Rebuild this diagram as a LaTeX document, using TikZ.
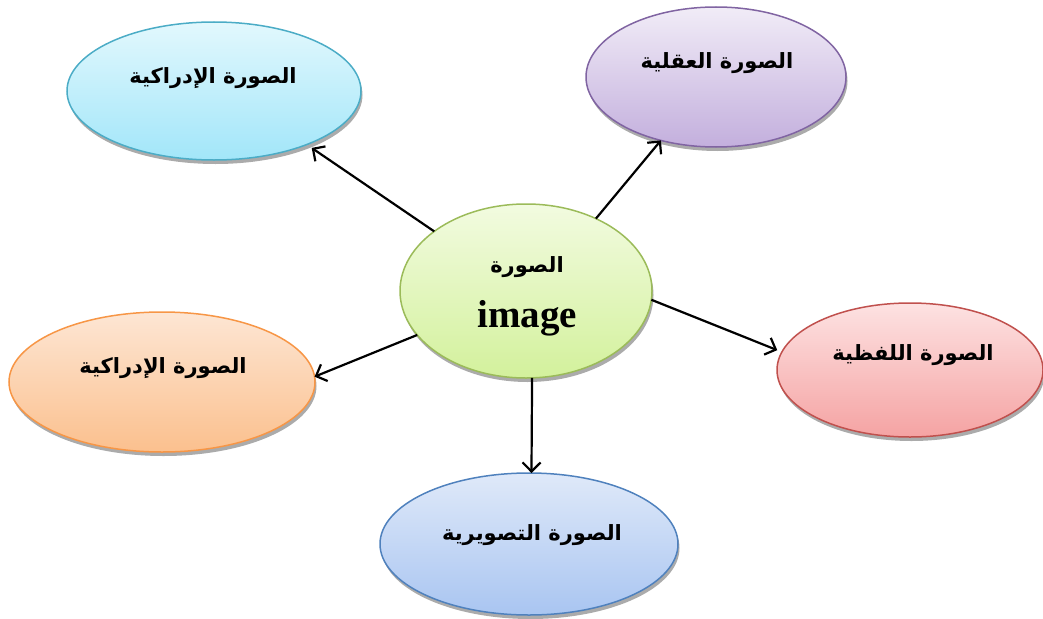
\documentclass[tikz,border=0pt]{standalone}
\usepackage{fontspec}
\setmainfont{Liberation Serif}
\newfontfamily\arabicfont[Script=Arabic]{DejaVu Sans}
\TeXXeTstate=1
\usetikzlibrary{shapes.geometric,shadows,arrows.meta}
\definecolor{cyanT}{HTML}{E2F8FD}\definecolor{cyanB}{HTML}{A2E6F9}\definecolor{cyanD}{HTML}{4BACC6}
\definecolor{purT}{HTML}{F1ECF7}\definecolor{purB}{HTML}{C3AFDD}\definecolor{purD}{HTML}{8064A2}
\definecolor{grnT}{HTML}{F2FBE0}\definecolor{grnB}{HTML}{D3F19C}\definecolor{grnD}{HTML}{9BBB59}
\definecolor{orgT}{HTML}{FDE6D4}\definecolor{orgB}{HTML}{FBC08E}\definecolor{orgD}{HTML}{F79646}
\definecolor{redT}{HTML}{FDE2E2}\definecolor{redB}{HTML}{F5A3A3}\definecolor{redD}{HTML}{C0504D}
\definecolor{bluT}{HTML}{DFE9F9}\definecolor{bluB}{HTML}{A9C5F1}\definecolor{bluD}{HTML}{4F81BD}
\begin{document}
\begin{tikzpicture}[x=1pt,y=-1pt,
  bub/.style={ellipse, inner sep=0pt, outer sep=0pt, line width=1.5pt,
    drop shadow={shadow xshift=1.5pt, shadow yshift=-4pt, fill=black!55, opacity=0.6}},
  lab/.style={font=\arabicfont\bfseries\fontsize{21}{25}\selectfont, inner sep=0pt},
  arr/.style={line width=2.2pt, -{Straight Barb[length=9pt,width=18pt]}}
]
\useasboundingbox (0,0) rectangle (1043,618);
% ellipses
\node[bub, draw=cyanD, top color=cyanT, bottom color=cyanB, minimum width=294pt, minimum height=138pt] (tl) at (214,91) {};
\node[bub, draw=purD, top color=purT, bottom color=purB, minimum width=260pt, minimum height=140pt] (tr) at (716,77) {};
\node[bub, draw=grnD, top color=grnT, bottom color=grnB, minimum width=252pt, minimum height=174pt] (c) at (526,291) {};
\node[bub, draw=orgD, top color=orgT, bottom color=orgB, minimum width=306pt, minimum height=140pt] (l) at (162,382) {};
\node[bub, draw=redD, top color=redT, bottom color=redB, minimum width=266pt, minimum height=134pt] (r) at (910,370) {};
\node[bub, draw=bluD, top color=bluT, bottom color=bluB, minimum width=298pt, minimum height=142pt] (b) at (529,544) {};
% labels
\node[lab] (tlt) at (213,78) {\beginR الصورة الإدراكية\endR};
\node[lab] (trt) at (717,63) {\beginR الصورة العقلية\endR};
\node[lab] (ct) at (527,267) {\beginR الصورة\endR};
\node[font=\bfseries\fontsize{39}{41}\selectfont, inner sep=0pt] (ci) at (527,318) {image};
\node[lab] (lt) at (163,368) {\beginR الصورة الإدراكية\endR};
\node[lab] (rt) at (913,355) {\beginR الصورة اللفظية\endR};
\node[lab] (bt) at (532,535) {\beginR الصورة التصويرية\endR};
% connectors
\draw[arr, shorten >=6pt] (c.147) -- (tl.-30);
\draw[arr] (c.46) -- (tr.229);
\draw[arr, shorten >=5pt] (c.-4) -- (r.172);
\draw[arr] (c.202) -- (l.2);
\draw[arr] (c.-86) -- (b.88);
\end{tikzpicture}
\end{document}
